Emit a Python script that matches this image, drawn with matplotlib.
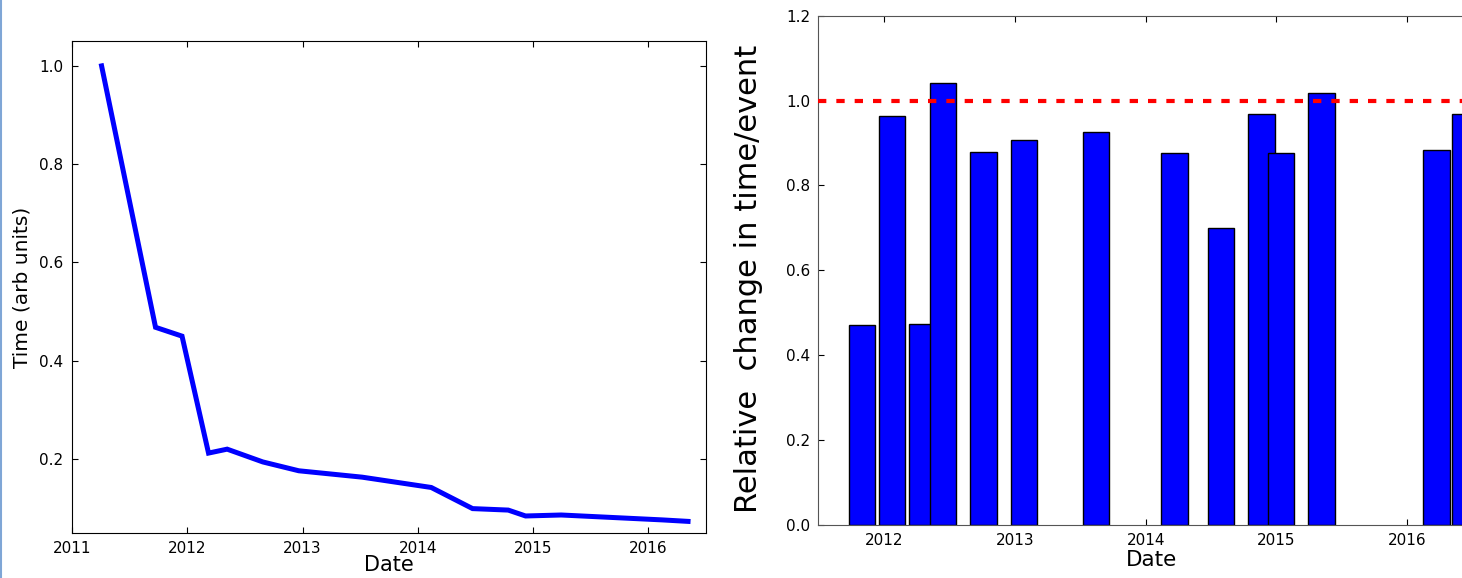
import numpy as np
import pandas as pd
import matplotlib
matplotlib.use('Agg')
import matplotlib.pyplot as plt
import matplotlib.dates as mdates
from matplotlib.lines import Line2D

dates = pd.to_datetime([
    '2011-04-05', '2011-09-23', '2011-12-16', '2012-03-09', '2012-05-07',
    '2012-08-28', '2012-12-20', '2013-07-09', '2014-02-13', '2014-06-24',
    '2014-10-15', '2014-12-09', '2015-04-01', '2016-02-16', '2016-05-07',
])

# Time per event, arbitrary units (left panel)
times = [1.0, 0.468, 0.450, 0.212, 0.220, 0.194, 0.176, 0.163,
         0.142, 0.099, 0.096, 0.084, 0.086, 0.076, 0.073]

# Relative change vs previous measurement (right panel), one per date after the first
rel_change = [0.471, 0.964, 0.474, 1.041, 0.879, 0.907, 0.926,
              0.876, 0.700, 0.969, 0.876, 1.018, 0.884, 0.968]

plt.rcParams['font.family'] = 'DejaVu Sans'
plt.rcParams['xtick.direction'] = 'in'
plt.rcParams['ytick.direction'] = 'in'
plt.rcParams['xtick.top'] = True
plt.rcParams['ytick.right'] = True
plt.rcParams['xtick.major.size'] = 4
plt.rcParams['ytick.major.size'] = 4

fig = plt.figure(figsize=(14.62, 5.78), dpi=100)

# Left panel: time per event
ax1 = fig.add_axes([0.0492, 0.0784, 0.4335, 0.8501])
ax1.plot(dates, times, color='#0000ff', lw=3.6, solid_joinstyle='miter')
ax1.set_xlim(pd.Timestamp('2011-01-01'), pd.Timestamp('2016-07-02'))
ax1.set_ylim(0.05, 1.05)
ax1.set_yticks([0.2, 0.4, 0.6, 0.8, 1.0])
ax1.xaxis.set_major_locator(mdates.YearLocator())
ax1.xaxis.set_major_formatter(mdates.DateFormatter('%Y'))
ax1.tick_params(labelsize=11, pad=6)
ax1.set_xlabel('Date', fontsize=15, labelpad=-1)
ax1.set_ylabel('Time (arb units)', fontsize=14.5, labelpad=6)

# Right panel: relative change between measurements
ax2 = fig.add_axes([0.5597, 0.0917, 0.4563, 0.8811])
ax2.bar(dates[1:], rel_change, width=74, align='edge',
        color='#0000ff', edgecolor='black', linewidth=1.0, zorder=2)
ax2.axhline(1.0, color='#ff0000', lw=3, ls='--', dashes=(2, 2.4), zorder=3)
ax2.set_xlim(pd.Timestamp('2011-06-30'), pd.Timestamp('2016-08-08'))
ax2.set_ylim(0, 1.2)
ax2.set_yticks([0.0, 0.2, 0.4, 0.6, 0.8, 1.0, 1.2])
ax2.xaxis.set_major_locator(mdates.YearLocator())
ax2.xaxis.set_major_formatter(mdates.DateFormatter('%Y'))
ax2.tick_params(labelsize=11, pad=6)
ax2.set_xlabel('Date', fontsize=15.5, labelpad=1)
ax2.set_ylabel('Relative  change in time/event', fontsize=22)
ax2.yaxis.set_label_coords(-0.083, 0.484)
for sp in ax2.spines.values():
    sp.set_color('#555555')

# thin border on the left edge of the slide
fig.add_artist(Line2D([0.001, 0.001], [0, 1], transform=fig.transFigure,
                      color='#7fa6d6', lw=1.5))

fig.savefig('out.png', dpi=100)
